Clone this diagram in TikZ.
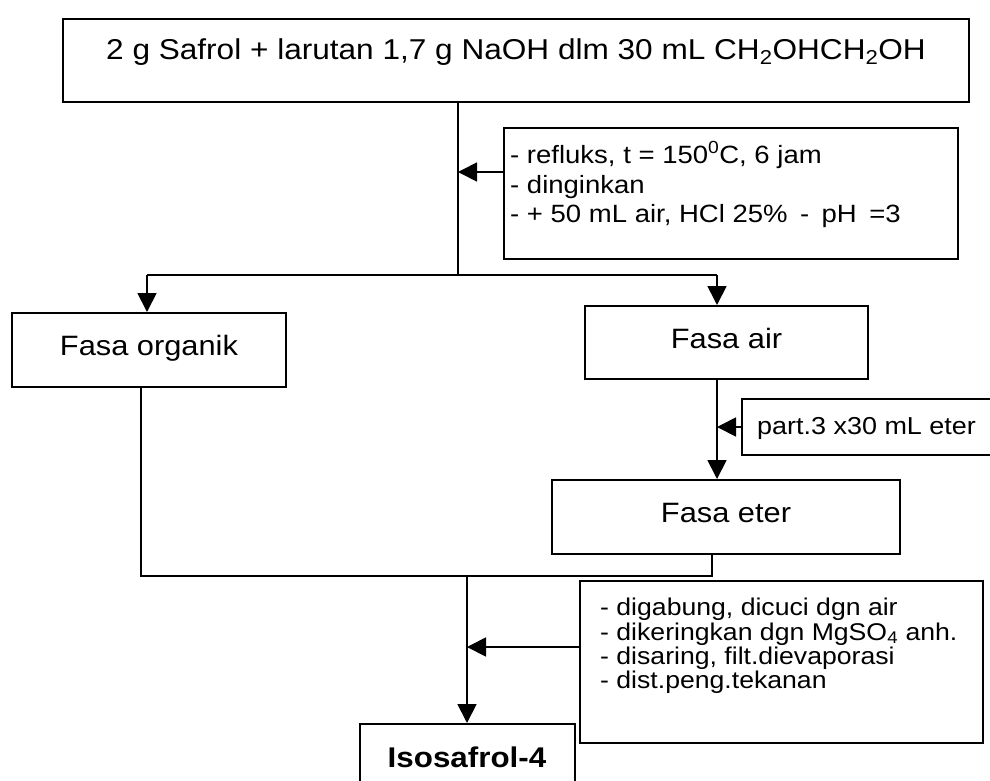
\documentclass[tikz,border=0pt]{standalone}
\usepackage{fontspec}
\setmainfont{Liberation Sans}[FakeStretch=1.1]
\usetikzlibrary{arrows.meta}
\begin{document}
\begin{tikzpicture}[x=1pt,y=-1pt,
  box/.style={draw, line width=2pt, inner sep=0pt, anchor=north west},
  phase/.style={box, font=\fontsize{28}{32}\selectfont, text height=20pt, text depth=9pt},
  link/.style={line width=1.8pt},
  flow/.style={link, -{Triangle[length=19pt,width=19pt]}},
  note/.style={anchor=base west, inner sep=0pt},
  notetop/.style={note, font=\fontsize{28.7}{32}\selectfont},
  notea/.style={note, font=\fontsize{25}{29}\selectfont},
  noteb/.style={note, font=\fontsize{24.2}{27}\selectfont}]
\useasboundingbox (0,0) rectangle (990,780);

% starting mixture
\node[box, minimum width=906, minimum height=83] (top) at (62,18) {};
\node[notetop] (top-t) at (106,59)
  {2 g Safrol + larutan 1,7 g NaOH dlm 30 mL CH\textsubscript{2}OHCH\textsubscript{2}OH};

% reaction conditions
\node[box, minimum width=454, minimum height=131] (cond1) at (503,127) {};
\node[notea] (cond1-a) at (510,163) {- refluks, t = 150\textsuperscript{0}C, 6 jam};
\node[notea] (cond1-b) at (510,193) {- dinginkan};
\node[notea] (cond1-c) at (510,222)
  {- + 50 mL air, HCl 25\%\hspace{0.5em}-\hspace{0.5em}pH\hspace{0.5em}=3};

% the two phases
\node[phase, minimum width=274, minimum height=74] (org) at (11,312) {Fasa organik};
\node[phase, minimum width=283, minimum height=73] (air) at (584,305) {Fasa air};

% extraction of the aqueous phase
\node[box, minimum width=262, minimum height=56] (part) at (741,398) {};
\node[notea, font=\fontsize{24.5}{28}\selectfont] (part-t) at (757,434) {part.3 x30 mL eter};
\node[phase, minimum width=348, minimum height=74] (eter) at (551,479) {Fasa eter};

% work-up
\node[box, minimum width=403, minimum height=162] (cond2) at (579,580) {};
\node[noteb] (cond2-a) at (600,615) {- digabung, dicuci dgn air};
\node[noteb] (cond2-b) at (600,640) {- dikeringkan dgn MgSO\textsubscript{4} anh.};
\node[noteb] (cond2-c) at (600,664) {- disaring, filt.dievaporasi};
\node[noteb] (cond2-d) at (600,688) {- dist.peng.tekanan};

% product
\node[box, minimum width=215, minimum height=67,
      font=\bfseries\fontsize{28.5}{32}\selectfont] (iso) at (358.5,723) {Isosafrol-4};

% junctions
\coordinate (jTop) at (458,275);
\coordinate (jOrg) at (147,275);
\coordinate (jAir) at (717,275);
\coordinate (aCond) at (458,172);
\coordinate (mOrg) at (141,576);
\coordinate (mEter) at (712,576);
\coordinate (mOut) at (467,576);
\coordinate (aOut) at (467,647);

% connectors
\draw[link] (top.south -| jTop) -- (jTop);
\draw[flow] (cond1.west |- aCond) -- (aCond);
\draw[link] (jOrg) -- (jAir);
\draw[flow] (jOrg) -- (jOrg |- org.north);
\draw[flow] (jAir) -- (jAir |- air.north);
\draw[flow] (air.south -| jAir) -- (eter.north -| jAir);
\draw[flow] (part.west) -- (part.west -| jAir);
\draw[link] (org.south -| mOrg) -- (mOrg) -- (mEter) -- (eter.south -| mEter);
\draw[flow] (mOut) -- (iso.north -| mOut);
\draw[flow] (cond2.west |- aOut) -- (aOut);
\end{tikzpicture}
\end{document}
